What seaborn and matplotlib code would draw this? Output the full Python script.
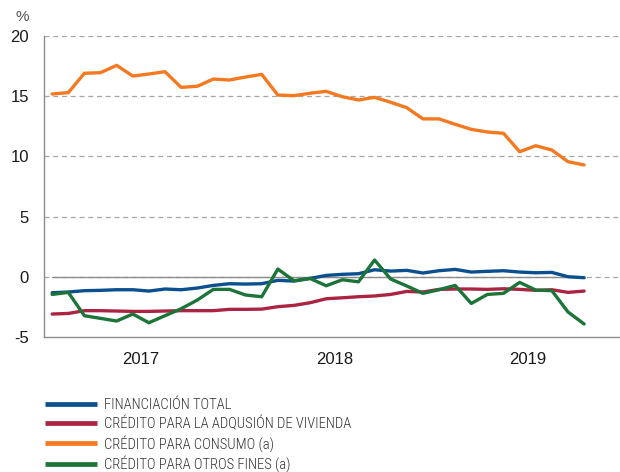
import numpy as np
import pandas as pd
import matplotlib
matplotlib.use("Agg")
import matplotlib.pyplot as plt
import seaborn as sns

# Monthly series, Jan 2017 - Oct 2019 (% year-on-year)
meses = pd.period_range("2017-01", "2019-10", freq="M")

financiacion_total = [
    -1.33, -1.27, -1.16, -1.13, -1.08, -1.08, -1.19, -1.02, -1.08, -0.94, -0.72, -0.58,
    -0.61, -0.58, -0.30, -0.36, -0.14, 0.11, 0.20, 0.25, 0.58, 0.47, 0.53, 0.31,
    0.50, 0.61, 0.39, 0.45, 0.50, 0.39, 0.33, 0.36, 0.00, -0.08,
]
credito_vivienda = [
    -3.10, -3.05, -2.82, -2.82, -2.85, -2.88, -2.88, -2.85, -2.82, -2.82, -2.82, -2.71,
    -2.71, -2.69, -2.49, -2.38, -2.16, -1.83, -1.75, -1.66, -1.60, -1.47, -1.22, -1.27,
    -1.05, -1.02, -1.02, -1.05, -1.00, -1.05, -1.13, -1.08, -1.30, -1.19,
]
credito_consumo = [
    15.19, 15.30, 16.91, 16.96, 17.57, 16.68, 16.85, 17.04, 15.74, 15.83, 16.43, 16.35,
    16.60, 16.82, 15.10, 15.05, 15.25, 15.41, 14.96, 14.69, 14.91, 14.50, 14.05, 13.12,
    13.12, 12.67, 12.25, 12.03, 11.92, 10.39, 10.89, 10.53, 9.56, 9.29,
]
credito_otros = [
    -1.47, -1.30, -3.24, -3.46, -3.68, -3.10, -3.82, -3.24, -2.66, -1.94, -1.05, -1.05,
    -1.52, -1.66, 0.64, -0.33, -0.14, -0.75, -0.25, -0.42, 1.39, -0.19, -0.77, -1.38,
    -1.08, -0.72, -2.22, -1.47, -1.38, -0.47, -1.11, -1.16, -2.93, -3.93,
]

etiquetas = [
    "FINANCIACIÓN TOTAL",
    "CRÉDITO PARA LA ADQUSIÓN DE VIVIENDA",
    "CRÉDITO PARA CONSUMO (a)",
    "CRÉDITO PARA OTROS FINES (a)",
]
colores = ["#0b4f8e", "#ab2543", "#f47920", "#1d7438"]
anios = ["2017", "2018", "2019"]
yticks = [-5, 0, 5, 10, 15, 20]

# month position: centre of each month on a 12-per-year axis
pos = np.array([(p.year - 2017) * 12 + p.month - 1 + 0.5 for p in meses])

df = pd.concat(
    [
        pd.DataFrame({"mes": pos, "valor": v, "serie": e})
        for v, e in zip(
            [financiacion_total, credito_vivienda, credito_consumo, credito_otros],
            etiquetas,
        )
    ],
    ignore_index=True,
)

sns.set_theme(style="white")
plt.rcParams["font.family"] = ["Liberation Sans", "DejaVu Sans"]

fig = plt.figure(figsize=(6.2, 4.72), dpi=100)
ax = fig.add_axes([44.1 / 620, 1 - 336.9 / 472, 1 - 44.1 / 620, (336.9 - 36.1) / 472])

# dashed reference grid
for y in yticks[1:]:
    ax.axhline(y, color="#a6a6a6", lw=0.9, ls=(0, (4, 3)), zorder=0)
# solid zero line over the span of the data
ax.plot([pos[0], pos[-1]], [0, 0], color="#8c8c8c", lw=1.0, zorder=1)

sns.lineplot(
    data=df, x="mes", y="valor", hue="serie", hue_order=etiquetas,
    palette=colores, linewidth=2.4, ax=ax, legend=True,
)

ax.set_xlim(0, (620 - 44.1) / 16.12)
ax.set_ylim(-5, 20)
ax.set_xlabel("")
ax.set_ylabel("")

ax.set_yticks(yticks)
ax.set_yticklabels([str(t) for t in yticks])
ax.tick_params(axis="y", length=0, pad=11, labelsize=12, colors="#1a1a1a")

ax.set_xticks([12, 24])
ax.set_xticklabels([])
ax.set_xticks([6, 18, 30], minor=True)
ax.set_xticklabels(anios, minor=True)
ax.tick_params(axis="x", which="major", direction="in", length=4, width=0.9, color="#8c8c8c")
ax.tick_params(axis="x", which="minor", length=0, pad=11, labelsize=12, colors="#1a1a1a")

for s in ["top", "right"]:
    ax.spines[s].set_visible(False)
for s in ["left", "bottom"]:
    ax.spines[s].set_color("#8c8c8c")
    ax.spines[s].set_linewidth(1.0)

fig.text(22 / 620, 1 - 17 / 472, "%", ha="center", va="center", fontsize=11, color="#555555")

sns.move_legend(
    ax, "upper left", bbox_to_anchor=(45 / 620, 1 - 398 / 472),
    bbox_transform=fig.transFigure, frameon=False, title=None,
    handlelength=3.55, handletextpad=0.48, labelspacing=0.26,
    borderpad=0, borderaxespad=0,
    prop={"family": ["Roboto Condensed", "DejaVu Sans"], "size": 10.5, "weight": "light"},
)
for t in ax.get_legend().get_texts():
    t.set_color("#333333")
for l in ax.get_legend().get_lines():
    l.set_linewidth(3.4)
    l.set_solid_capstyle("butt")

fig.savefig("out.png", dpi=100, facecolor="white")
